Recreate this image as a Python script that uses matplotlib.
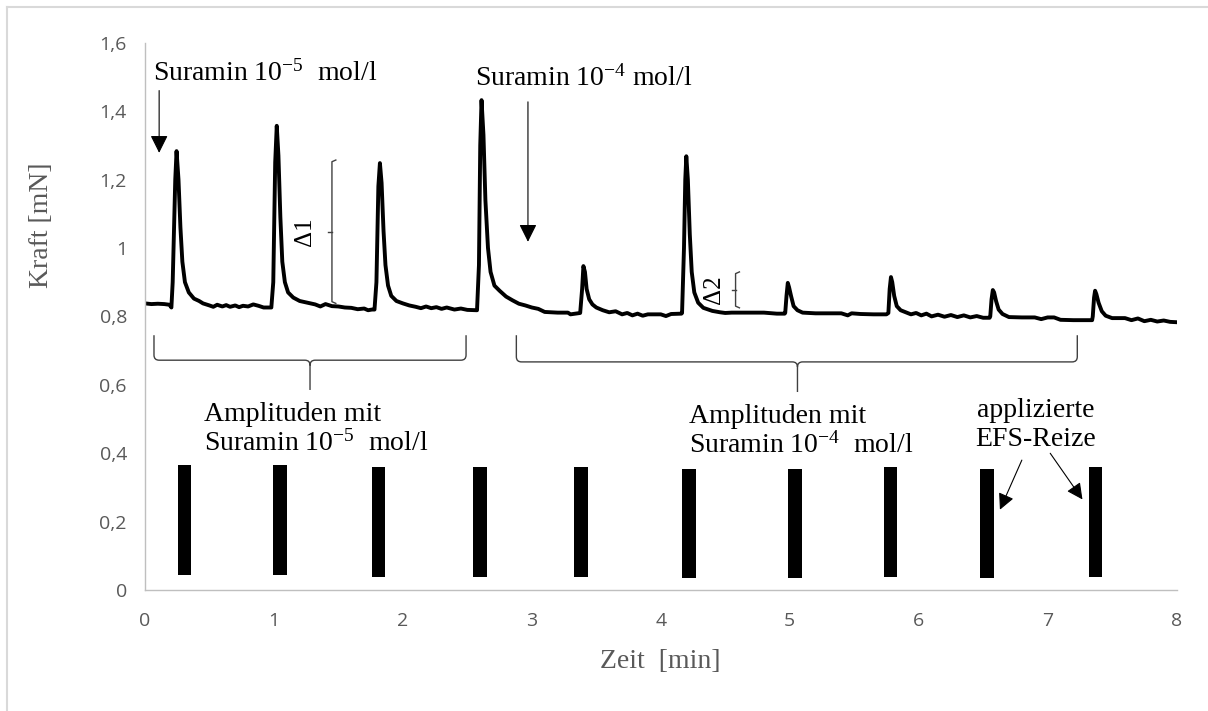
import matplotlib
matplotlib.use("Agg")
import matplotlib.pyplot as plt
from matplotlib.path import Path
from matplotlib.patches import PathPatch
from matplotlib.lines import Line2D

plt.rcParams["font.family"] = ["Liberation Serif", "DejaVu Serif"]
plt.rcParams["mathtext.fontset"] = "custom"
plt.rcParams["mathtext.rm"] = "Liberation Serif"
plt.rcParams["mathtext.it"] = "Liberation Serif:italic"
plt.rcParams["mathtext.bf"] = "Liberation Serif:bold"

# force trace (time in min, force in mN)
trace_t = [
    0.00, 0.05, 0.10, 0.15, 0.19, 0.205, 0.215, 0.235, 0.245, 0.26, 0.275, 0.29, 0.31, 0.34, 0.38,
    0.42, 0.45, 0.50, 0.53, 0.56, 0.60, 0.63, 0.66, 0.70, 0.73, 0.76, 0.80, 0.84, 0.88, 0.92, 0.96,
    0.98, 0.995, 1.01, 1.022, 1.035, 1.05, 1.065, 1.085, 1.11, 1.15, 1.20, 1.26, 1.32, 1.36, 1.40,
    1.45, 1.50, 1.55, 1.60, 1.65, 1.70, 1.73, 1.76,
    1.78, 1.795, 1.81, 1.822, 1.835, 1.85, 1.865, 1.885, 1.91, 1.95, 2.00, 2.05, 2.10, 2.14, 2.18,
    2.22, 2.26, 2.30, 2.34, 2.40, 2.45, 2.50, 2.56,
    2.575, 2.59, 2.60, 2.61, 2.625, 2.64, 2.66, 2.68, 2.71, 2.75, 2.80, 2.85, 2.90, 2.95, 3.00,
    3.05, 3.10, 3.20, 3.28, 3.30, 3.36,
    3.375, 3.39, 3.40, 3.412, 3.425, 3.445, 3.47, 3.50, 3.55, 3.60, 3.65, 3.70, 3.74, 3.78, 3.82,
    3.86, 3.90, 4.00, 4.04, 4.08, 4.16,
    4.165, 4.18, 4.19, 4.198, 4.21, 4.225, 4.24, 4.26, 4.29, 4.33, 4.40, 4.46, 4.50, 4.55, 4.60,
    4.70, 4.80, 4.90, 4.96,
    4.965, 4.975, 4.985, 4.995, 5.01, 5.03, 5.06, 5.10, 5.20, 5.30, 5.40, 5.45, 5.48, 5.55, 5.65,
    5.70, 5.75,
    5.765, 5.775, 5.785, 5.795, 5.81, 5.83, 5.86, 5.90, 5.94, 5.98, 6.02, 6.06, 6.10, 6.15, 6.20,
    6.25, 6.30, 6.35, 6.40, 6.45, 6.50, 6.55,
    6.555, 6.565, 6.575, 6.585, 6.60, 6.62, 6.65, 6.70, 6.80, 6.90, 6.95, 7.00, 7.05, 7.10, 7.20,
    7.30, 7.345,
    7.35, 7.36, 7.368, 7.378, 7.395, 7.42, 7.45, 7.50, 7.60, 7.65, 7.70, 7.75, 7.80, 7.85, 7.90,
    7.95, 8.00,
]
trace_f = [
    0.838, 0.836, 0.837, 0.836, 0.834, 0.826, 0.90, 1.20, 1.283, 1.20, 1.06, 0.96, 0.90, 0.870, 0.852,
    0.845, 0.838, 0.832, 0.828, 0.834, 0.829, 0.833, 0.828, 0.832, 0.827, 0.831, 0.829, 0.835, 0.831, 0.826, 0.826,
    0.826, 0.90, 1.25, 1.357, 1.27, 1.09, 0.96, 0.90, 0.87, 0.855, 0.845, 0.840, 0.835, 0.829, 0.836,
    0.830, 0.829, 0.826, 0.825, 0.821, 0.823, 0.818, 0.820,
    0.820, 0.90, 1.18, 1.248, 1.19, 1.05, 0.95, 0.89, 0.86, 0.845, 0.838, 0.832, 0.828, 0.824, 0.829,
    0.824, 0.827, 0.822, 0.826, 0.820, 0.823, 0.819, 0.818,
    0.818, 0.95, 1.30, 1.432, 1.33, 1.14, 1.00, 0.93, 0.89, 0.875, 0.858, 0.847, 0.837, 0.832, 0.826,
    0.822, 0.813, 0.811, 0.811, 0.806, 0.809,
    0.810, 0.88, 0.947, 0.93, 0.88, 0.85, 0.835, 0.826, 0.818, 0.812, 0.815, 0.806, 0.810, 0.803, 0.808,
    0.802, 0.806, 0.806, 0.801, 0.807, 0.808,
    0.810, 1.00, 1.20, 1.268, 1.20, 1.04, 0.93, 0.87, 0.84, 0.825, 0.816, 0.812, 0.810, 0.811, 0.811,
    0.811, 0.811, 0.808, 0.808,
    0.810, 0.86, 0.898, 0.885, 0.86, 0.83, 0.818, 0.811, 0.809, 0.809, 0.809, 0.803, 0.809, 0.807, 0.806,
    0.806, 0.806,
    0.810, 0.88, 0.915, 0.90, 0.86, 0.83, 0.818, 0.812, 0.806, 0.810, 0.803, 0.808, 0.800, 0.805, 0.799,
    0.804, 0.798, 0.803, 0.797, 0.801, 0.796, 0.796,
    0.800, 0.85, 0.877, 0.87, 0.845, 0.82, 0.807, 0.798, 0.797, 0.797, 0.792, 0.797, 0.797, 0.790, 0.789,
    0.789, 0.789,
    0.800, 0.855, 0.875, 0.865, 0.84, 0.815, 0.802, 0.795, 0.795, 0.789, 0.794, 0.786, 0.790, 0.785, 0.788,
    0.784, 0.783,
]

# EFS stimuli (bar centers, bottom and top in mN)
stim_t = [0.306, 1.047, 1.81, 2.60, 3.38, 4.22, 5.04, 5.78, 6.53, 7.37]
stim_bottom = [0.044, 0.044, 0.038, 0.038, 0.038, 0.035, 0.035, 0.038, 0.035, 0.038]
stim_top = [0.365, 0.365, 0.360, 0.360, 0.360, 0.354, 0.354, 0.360, 0.354, 0.360]

yticks = [0, 0.2, 0.4, 0.6, 0.8, 1.0, 1.2, 1.4, 1.6]
ytick_labels = ["0", "0,2", "0,4", "0,6", "0,8", "1", "1,2", "1,4", "1,6"]
xticks = [0, 1, 2, 3, 4, 5, 6, 7, 8]

GRAY = "#595959"
AXGRAY = "#bfbfbf"

fig = plt.figure(figsize=(12.08, 7.11), dpi=100)
ax = fig.add_axes([0.120, 0.170, 0.854, 0.770])

# light figure frame (only top/left visible in the original crop)
fig.add_artist(Line2D([7 / 1208, 7 / 1208], [0, 1 - 7 / 711], color="#d9d9d9", lw=1.5,
                      transform=fig.transFigure))
fig.add_artist(Line2D([7 / 1208, 1], [1 - 7 / 711, 1 - 7 / 711], color="#d9d9d9", lw=1.5,
                      transform=fig.transFigure))

ax.plot(trace_t, trace_f, color="black", lw=2.8, solid_joinstyle="round")

heights = [t - b for t, b in zip(stim_top, stim_bottom)]
ax.bar(stim_t, heights, bottom=stim_bottom, width=0.105, color="black")

ax.set_xlim(0, 8)
ax.set_ylim(0, 1.6)
ax.set_xticks(xticks)
ax.set_xticklabels([str(x) for x in xticks])
ax.set_yticks(yticks)
ax.set_yticklabels(ytick_labels)
for lab in ax.get_xticklabels() + ax.get_yticklabels():
    lab.set_family(["Open Sans", "DejaVu Sans"])
    lab.set_fontsize(14)
    lab.set_color(GRAY)
ax.tick_params(axis="both", length=0)
ax.tick_params(axis="x", pad=16)
ax.tick_params(axis="y", pad=13)
ax.spines["top"].set_visible(False)
ax.spines["right"].set_visible(False)
for s in ("left", "bottom"):
    ax.spines[s].set_color(AXGRAY)
    ax.spines[s].set_linewidth(1.0)

fig.text(42 / 1208, 1 - 225 / 711, "Kraft [mN]", rotation=90, ha="center", va="center",
         fontsize=20, color=GRAY)
fig.text(660 / 1208, 1 - 662 / 711, "Zeit  [min]", ha="center", va="center",
         fontsize=20, color=GRAY)

TXT = dict(fontsize=20, color="black")

# drug application markers
ax.text(0.06, 1.51, "Suramin 10$^{\\mathrm{-5}}$  mol/l", ha="left", va="center", **TXT)
ax.annotate("", xy=(0.11, 1.278), xytext=(0.11, 1.46),
            arrowprops=dict(arrowstyle="-|>,head_length=0.6,head_width=0.3", mutation_scale=18,
                            color="black", lw=0.8, shrinkA=0, shrinkB=0))
ax.text(2.56, 1.495, "Suramin 10$^{\\mathrm{-4}}$ mol/l", ha="left", va="center", **TXT)
ax.annotate("", xy=(2.97, 1.018), xytext=(2.97, 1.427),
            arrowprops=dict(arrowstyle="-|>,head_length=0.6,head_width=0.3", mutation_scale=18,
                            color="black", lw=0.8, shrinkA=0, shrinkB=0))


def hbrace(x0, x1, xm, ytop, yh, ytip, dx=0.04, r=0.015):
    verts = [(x0, ytop), (x0, yh + r), (x0, yh), (x0 + dx, yh), (xm - dx, yh), (xm, yh), (xm, yh - r),
             (xm, ytip),
             (xm, yh - r), (xm, yh), (xm + dx, yh), (x1 - dx, yh), (x1, yh), (x1, yh + r), (x1, ytop)]
    codes = [Path.MOVETO, Path.LINETO, Path.CURVE3, Path.CURVE3, Path.LINETO, Path.CURVE3, Path.CURVE3,
             Path.LINETO,
             Path.MOVETO, Path.CURVE3, Path.CURVE3, Path.LINETO, Path.CURVE3, Path.CURVE3, Path.LINETO]
    ax.add_patch(PathPatch(Path(verts, codes), fill=False, ec="#404040", lw=1.0))


def vbrace(xb, yb, yt, arm=0.03):
    ym = (yb + yt) / 2
    ax.plot([xb + arm, xb, xb, xb + arm], [yt, yt - 0.005, yb + 0.005, yb], color="#404040", lw=1.0)
    ax.plot([xb, xb - arm], [ym, ym], color="#404040", lw=1.0)


hbrace(0.07, 2.49, 1.28, 0.745, 0.672, 0.585)
hbrace(2.88, 7.23, 5.06, 0.745, 0.667, 0.579)

vbrace(1.45, 0.838, 1.257)
ax.text(1.24, 1.047, "\u03941", rotation=90, ha="center", va="center", fontsize=18)
vbrace(4.58, 0.825, 0.93)
ax.text(4.41, 0.877, "\u03942", rotation=90, ha="center", va="center", fontsize=18)

ax.text(0.457, 0.47, "Amplituden mit\nSuramin 10$^{\\mathrm{-5}}$  mol/l", ha="left", va="center",
        linespacing=1.15, **TXT)
ax.text(4.22, 0.465, "Amplituden mit\nSuramin 10$^{\\mathrm{-4}}$  mol/l", ha="left", va="center",
        linespacing=1.15, **TXT)
ax.text(6.91, 0.482, "applizierte\nEFS-Reize", ha="center", va="center", linespacing=1.2, **TXT)

small = dict(arrowstyle="-|>,head_length=0.7,head_width=0.35", mutation_scale=14, color="black",
             lw=0.8, shrinkA=0, shrinkB=0)
ax.annotate("", xy=(6.63, 0.235), xytext=(6.80, 0.38), arrowprops=small)
ax.annotate("", xy=(7.27, 0.265), xytext=(7.02, 0.40), arrowprops=small)

fig.savefig("out.png", dpi=100)
